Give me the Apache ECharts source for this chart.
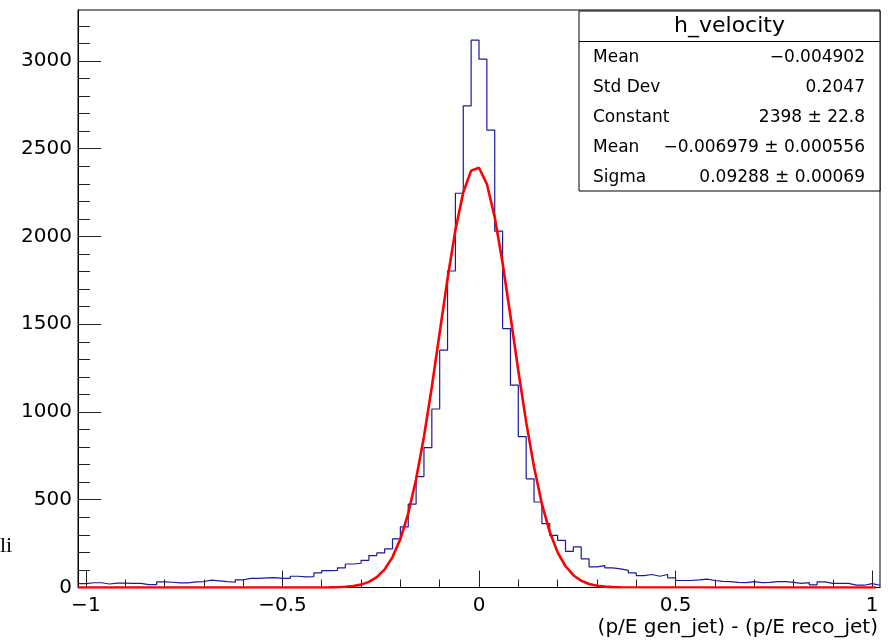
<!DOCTYPE html>
<html>
<head>
<meta charset="utf-8">
<title>h_velocity</title>
<script src="https://cdn.jsdelivr.net/npm/echarts@6.0.0/dist/echarts.min.js"></script>
<style>
  html, body { margin: 0; padding: 0; background: #fff; }
  #chart { width: 890px; height: 643px; }
</style>
</head>
<body>
<div id="chart"></div>
<script>
// histogram: 102 bins of 0.02 from -1.02 to 1.02
var xMin = -1.02;
var xMax = 1.02;
var binWidth = 0.02;
var counts = [
  22, 27, 27, 20, 25, 25, 24, 24, 16, 16,
  32, 30, 26, 26, 32, 34, 42, 38, 33, 30,
  44, 52, 52, 55, 56, 52, 52, 64, 60, 62,
  83, 96, 98, 112, 134, 138, 155, 182, 197, 220,
  277, 345, 475, 632, 797, 1017, 1352, 1803, 2246, 2744,
  3118, 3010, 2606, 2030, 1475, 1153, 860, 619, 487, 364,
  297, 269, 206, 231, 163, 118, 125, 112, 106, 98,
  83, 68, 74, 64, 74, 55, 40, 40, 43, 48,
  40, 35, 34, 29, 28, 34, 28, 29, 34, 34,
  29, 24, 28, 15, 32, 24, 23, 23, 14, 13,
  22, 13
];

// gaus fit curve
var fitX = [
  -1.02, -0.38, -0.36, -0.34, -0.32, -0.30, -0.28, -0.26, -0.24, -0.22,
  -0.20, -0.18, -0.16, -0.14, -0.12, -0.10, -0.08, -0.06, -0.04, -0.02,
  0.00, 0.02, 0.04, 0.06, 0.08, 0.10, 0.12, 0.14, 0.16, 0.18,
  0.20, 0.22, 0.24, 0.26, 0.28, 0.30, 0.32, 0.34, 0.36, 1.01
];
var fitY = [
  0, 0.8, 1.8, 3.9, 8.2, 16.5, 32, 59, 103, 173,
  276, 422, 617, 859, 1142, 1451, 1759, 2037, 2251, 2375,
  2391, 2299, 2110, 1849, 1547, 1235, 942, 686, 476, 316,
  200, 121, 70, 38.5, 20.3, 10.2, 4.9, 2.2, 1, 0
];

var yMax = 3290;
var yMajorTicks = [0, 500, 1000, 1500, 2000, 2500, 3000];
var yMinorTicks = [100, 200, 300, 400, 600, 700, 800, 900, 1100, 1200, 1300, 1400,
  1600, 1700, 1800, 1900, 2100, 2200, 2300, 2400, 2600, 2700, 2800, 2900, 3100, 3200];
var xMajorTicks = [-1, -0.5, 0, 0.5, 1];
var xMinorTicks = [-0.9, -0.8, -0.7, -0.6, -0.4, -0.3, -0.2, -0.1,
  0.1, 0.2, 0.3, 0.4, 0.6, 0.7, 0.8, 0.9];

var histTitle = 'h_velocity';
var xTitle = '(p/E gen_jet) - (p/E reco_jet)';
var statNames = ['Mean', 'Std Dev', 'Constant', 'Mean', 'Sigma'];
var statValues = ['\u22120.004902', '0.2047', '2398 \u00b1 22.8',
  '\u22120.006979 \u00b1 0.000556', '0.09288 \u00b1 0.00069'];

var font = 'DejaVu Sans';

var histData = counts.map(function (c, i) {
  return [Number((xMin + i * binWidth).toFixed(2)), c];
});
histData.push([xMax, counts[counts.length - 1]]);

var fitData = fitX.map(function (x, i) { return [x, fitY[i]]; });

function minusFmt(v) {
  return String(v).replace('-', '\u2212');
}

var chart = echarts.init(document.getElementById('chart'));

// stats box
var box = { x: 579, y: 11, w: 301, h: 180 };
var statsGraphic = [
  {
    type: 'rect', z: 100,
    shape: { x: box.x, y: box.y, width: box.w, height: box.h },
    style: { fill: '#fff', stroke: '#000', lineWidth: 1 }
  },
  {
    type: 'line', z: 101,
    shape: { x1: box.x, y1: 41.5, x2: box.x + box.w, y2: 41.5 },
    style: { stroke: '#000', lineWidth: 1 }
  },
  {
    type: 'text', z: 101, x: box.x + box.w / 2, y: 26,
    style: { text: histTitle, font: '22px "' + font + '"', fill: '#000',
      textAlign: 'center', textVerticalAlign: 'middle' }
  }
];
var rowY = [58, 88, 118, 148, 177.5];
statNames.forEach(function (name, i) {
  statsGraphic.push({
    type: 'text', z: 101, x: 593, y: rowY[i],
    style: { text: name, font: '17px "' + font + '"', fill: '#000',
      textAlign: 'left', textVerticalAlign: 'middle' }
  });
  statsGraphic.push({
    type: 'text', z: 101, x: 865, y: rowY[i],
    style: { text: statValues[i], font: '17px "' + font + '"', fill: '#000',
      textAlign: 'right', textVerticalAlign: 'middle' }
  });
});

var otherGraphic = [
  {
    type: 'text', z: 101, x: 878, y: 628,
    style: { text: xTitle, font: '20px "' + font + '"', fill: '#000',
      textAlign: 'right', textVerticalAlign: 'middle' }
  },
  {
    type: 'text', z: 101, x: 0, y: 546,
    style: { text: 'li', font: '22px "Liberation Serif"', fill: '#000',
      textAlign: 'left', textVerticalAlign: 'middle' }
  }
];

chart.setOption({
  animation: false,
  backgroundColor: '#fff',
  grid: {
    left: 78, right: 10, top: 10, bottom: 55.5,
    show: true, borderColor: '#000', borderWidth: 1
  },
  xAxis: [
    {
      type: 'value', min: xMin, max: xMax, position: 'bottom',
      axisLine: { show: true, onZero: false, lineStyle: { color: '#000', width: 1 } },
      axisTick: { show: true, inside: true, length: 17, customValues: xMajorTicks,
        lineStyle: { color: '#222', width: 1 } },
      axisLabel: { show: true, customValues: xMajorTicks, formatter: minusFmt, margin: 8,
        color: '#000', fontFamily: font, fontSize: 20 },
      splitLine: { show: false }
    },
    {
      type: 'value', min: xMin, max: xMax, position: 'bottom',
      axisLine: { show: false, onZero: false },
      axisTick: { show: true, inside: true, length: 8, customValues: xMinorTicks,
        lineStyle: { color: '#222', width: 1 } },
      axisLabel: { show: false },
      splitLine: { show: false }
    }
  ],
  yAxis: [
    {
      type: 'value', min: 0, max: yMax, position: 'left',
      axisLine: { show: true, onZero: false, lineStyle: { color: '#000', width: 1 } },
      axisTick: { show: true, inside: true, length: 23, customValues: yMajorTicks,
        lineStyle: { color: '#222', width: 1 } },
      axisLabel: { show: true, customValues: yMajorTicks, margin: 6,
        formatter: function (v) { return String(v); },
        color: '#000', fontFamily: font, fontSize: 20 },
      splitLine: { show: false }
    },
    {
      type: 'value', min: 0, max: yMax, position: 'left',
      axisLine: { show: false, onZero: false },
      axisTick: { show: true, inside: true, length: 12, customValues: yMinorTicks,
        lineStyle: { color: '#222', width: 1 } },
      axisLabel: { show: false },
      splitLine: { show: false }
    }
  ],
  series: [
    {
      name: 'h_velocity', type: 'line', step: 'end',
      data: histData, showSymbol: false, symbol: 'none',
      lineStyle: { color: '#1a1a9e', width: 1.2 },
      z: 2
    },
    {
      name: 'gaus', type: 'line',
      data: fitData, showSymbol: false, symbol: 'none', smooth: false,
      lineStyle: { color: '#ff0000', width: 2.6 },
      z: 3
    }
  ],
  graphic: statsGraphic.concat(otherGraphic)
});
</script>
</body>
</html>
